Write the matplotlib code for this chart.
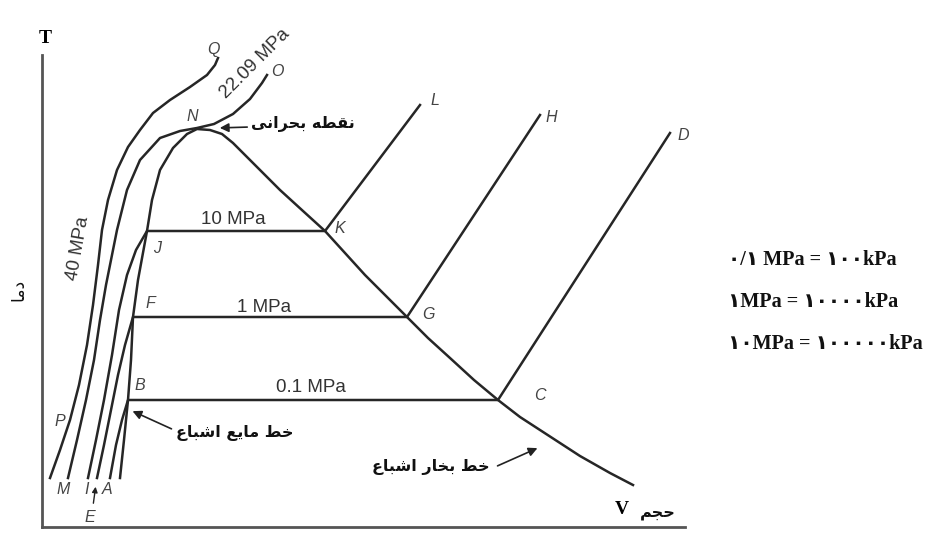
import matplotlib
matplotlib.use("Agg")
import matplotlib.pyplot as plt

# T-V diagram of water (schematic, arbitrary units: V to the right, T upward)

# saturation dome: liquid side up to the critical point N, then vapour side
dome_v = [78, 82, 86, 89, 91, 96, 105, 110, 118, 131, 145, 155,
          168, 180, 191, 213, 238, 261, 283, 303, 323, 344, 365, 386, 408, 432, 456, 478, 498,
          518, 538, 568, 591]
dome_t = [49, 87, 127, 167, 210, 247, 296, 327, 357, 379, 393, 398,
          397, 393, 384, 362, 337, 316, 296, 274, 252, 231, 210, 189, 169, 147, 127, 110, 97,
          84, 71, 54, 42]

# constant pressure lines
p01_v = [68, 74, 80, 86, 456, 628]            # A-B-C-D  0.1 MPa
p01_t = [49, 82, 107, 127, 127, 394]
p1_v = [55, 62, 69, 76, 83, 91, 365, 498]     # E-F-G-H  1 MPa
p1_t = [49, 82, 117, 152, 182, 210, 210, 412]
p10_v = [46, 54, 62, 70, 77, 85, 94, 105, 283, 378]   # I-J-K-L  10 MPa
p10_t = [49, 87, 127, 172, 217, 252, 277, 296, 296, 422]
pcr_v = [26, 35, 44, 52, 58, 64, 70, 75, 85, 98, 118, 138, 155, 172, 191, 208, 220, 225]  # M-N-O
pcr_t = [49, 87, 127, 167, 207, 242, 272, 297, 337, 367, 389, 396, 399, 403, 413, 428, 444, 452]
p40_v = [8, 18, 28, 37, 45, 51, 56, 60, 66, 75, 86, 98, 111, 128, 148, 165, 173, 176]  # P-Q
p40_t = [49, 77, 107, 142, 182, 222, 262, 297, 327, 357, 380, 397, 414, 427, 440, 452, 462, 469]

# point letters
letters = ["N", "J", "F", "B", "K", "G", "C", "L", "H", "D", "P", "M", "I", "A", "E", "Q", "O"]
letter_v = [150, 115, 108, 98, 298, 386, 498, 393, 509, 641, 18, 21, 45, 65, 48, 171, 235]
letter_t = [410, 278, 223, 141, 298, 212, 131, 426, 409, 391, 105, 37, 37, 37, 9, 477, 455]

# pressure labels: text, V, T, rotation
p_labels = ["10 MPa", "1 MPa", "0.1 MPa", "22.09 MPa", "40 MPa"]
p_label_v = [191, 222, 269, 213, 36]
p_label_t = [307, 219, 139, 463, 279]
p_label_rot = [0, 0, 0, 45, 80]

unit_lines = ["۰/۱ MPa = ۱۰۰kPa", "۱MPa = ۱۰۰۰۰kPa", "۱۰MPa = ۱۰۰۰۰۰kPa"]

# persian letters -> (isolated, final, initial, medial) presentation forms
FORMS = {
    'ا': ('\uFE8D', '\uFE8E', None, None),
    'ب': ('\uFE8F', '\uFE90', '\uFE91', '\uFE92'),
    'ج': ('\uFE9D', '\uFE9E', '\uFE9F', '\uFEA0'),
    'ح': ('\uFEA1', '\uFEA2', '\uFEA3', '\uFEA4'),
    'خ': ('\uFEA5', '\uFEA6', '\uFEA7', '\uFEA8'),
    'د': ('\uFEA9', '\uFEAA', None, None),
    'ر': ('\uFEAD', '\uFEAE', None, None),
    'ش': ('\uFEB5', '\uFEB6', '\uFEB7', '\uFEB8'),
    'ط': ('\uFEC1', '\uFEC2', '\uFEC3', '\uFEC4'),
    'ع': ('\uFEC9', '\uFECA', '\uFECB', '\uFECC'),
    'ق': ('\uFED5', '\uFED6', '\uFED7', '\uFED8'),
    'م': ('\uFEE1', '\uFEE2', '\uFEE3', '\uFEE4'),
    'ن': ('\uFEE5', '\uFEE6', '\uFEE7', '\uFEE8'),
    'ه': ('\uFEE9', '\uFEEA', '\uFEEB', '\uFEEC'),
    'ی': ('\uFEEF', '\uFEF0', '\uFEF3', '\uFEF4'),
}


def fa(s):
    # minimal shaping + right-to-left ordering (matplotlib has no bidi)
    out = []
    for i, ch in enumerate(s):
        f = FORMS.get(ch)
        if f is None:
            out.append(ch)
            continue
        prev = s[i - 1] if i > 0 else ''
        nxt = s[i + 1] if i + 1 < len(s) else ''
        jp = prev in FORMS and FORMS[prev][2] is not None
        jn = f[2] is not None and nxt in FORMS
        if jp and jn:
            out.append(f[3])
        elif jp:
            out.append(f[1])
        elif jn:
            out.append(f[2])
        else:
            out.append(f[0])
    return ''.join(reversed(out))


fig = plt.figure(figsize=(9.34, 5.34), dpi=100)
ax = fig.add_axes([42 / 934, 7 / 534, 643 / 934, 472 / 534])
ax.set_xlim(0, 643)
ax.set_ylim(0, 472)
for side in ["top", "right"]:
    ax.spines[side].set_visible(False)
for side in ["left", "bottom"]:
    ax.spines[side].set_linewidth(2)
    ax.spines[side].set_color("#555555")
ax.set_xticks([])
ax.set_yticks([])

lc = "#262626"
lw = 1.8
ax.plot(dome_v, dome_t, color=lc, lw=lw, clip_on=False)
for v, t in [(p01_v, p01_t), (p1_v, p1_t), (p10_v, p10_t), (pcr_v, pcr_t), (p40_v, p40_t)]:
    ax.plot(v, t, color=lc, lw=lw, clip_on=False)

for s, v, t in zip(letters, letter_v, letter_t):
    ax.text(v, t, s, fontsize=11.5, style="italic", color="#444444",
            family="Liberation Sans", ha="center", va="center")

for s, v, t, r in zip(p_labels, p_label_v, p_label_t, p_label_rot):
    ax.text(v, t, s, fontsize=13.5, color="#333333", family="Liberation Sans",
            ha="center", va="center", rotation=r, rotation_mode="anchor")

fa_font = dict(family=["DejaVu Sans"], weight="bold", fontsize=11.5, color="#111111")
arrow = dict(arrowstyle="-|>", lw=1.2, color="#222222", mutation_scale=13)

ax.text(261, 403, fa("نقطه بحرانی"), ha="center", va="center", **fa_font)
ax.annotate("", xy=(175, 399), xytext=(208, 400), arrowprops=arrow)

ax.text(193, 94, fa("خط مایع اشباع"), ha="center", va="center", **fa_font)
ax.annotate("", xy=(88, 117), xytext=(132, 97), arrowprops=arrow)

ax.text(389, 60, fa("خط بخار اشباع"), ha="center", va="center", **fa_font)
ax.annotate("", xy=(498, 80), xytext=(453, 60), arrowprops=arrow)

ax.annotate("", xy=(54, 43), xytext=(51, 21),
            arrowprops=dict(arrowstyle="-|>", lw=1.0, color="#222222", mutation_scale=8))

# axis names
ax.text(3, 488, "T", fontsize=14, weight="bold", family="Liberation Serif",
        ha="center", va="center", clip_on=False)
ax.text(580, 17, "V", fontsize=14, weight="bold", family="Liberation Serif",
        ha="center", va="center")
ax.text(616, 15, fa("حجم"), ha="center", va="center", **fa_font)
ax.text(-24, 237, fa("دما"), ha="center", va="center", rotation=90,
        family=["DejaVu Sans"], fontsize=12.5, color="#111111")

# unit conversions on the right
for k, s in enumerate(unit_lines):
    ax.text(686, 267 - 42 * k, s, fontsize=14.5, weight="bold",
            family=["Liberation Serif", "DejaVu Sans"], color="#111111",
            ha="left", va="center", clip_on=False)

fig.savefig("out.png", dpi=100, facecolor="white")
